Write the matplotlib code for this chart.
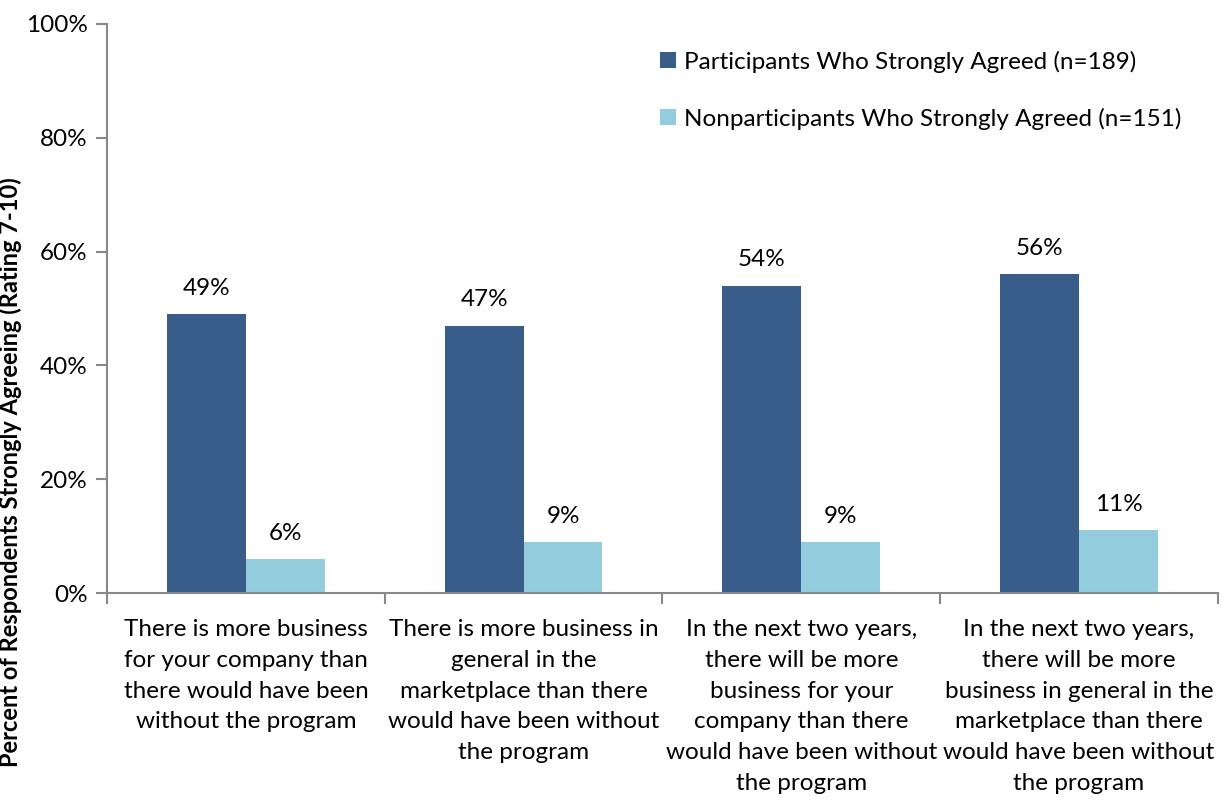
import numpy as np
import matplotlib.pyplot as plt

# survey results, percent strongly agreeing (rating 7-10)
categories = [
    "There is more business\nfor your company than\nthere would have been\nwithout the program",
    "There is more business in\ngeneral in the\nmarketplace than there\nwould have been without\nthe program",
    "In the next two years,\nthere will be more\nbusiness for your\ncompany than there\nwould have been without\nthe program",
    "In the next two years,\nthere will be more\nbusiness in general in the\nmarketplace than there\nwould have been without\nthe program",
]
participants = [49, 47, 54, 56]
nonparticipants = [6, 9, 9, 11]
series_names = ["Participants Who Strongly Agreed (n=189)",
                "Nonparticipants Who Strongly Agreed (n=151)"]
y_ticks = [0, 20, 40, 60, 80, 100]

plt.rcParams['font.family'] = ['Lato', 'DejaVu Sans']

dark = "#385D8A"
light = "#93CDDD"
axis_grey = "#888888"
fs = 17.5

fig = plt.figure(figsize=(12.22, 8), dpi=100)
ax = fig.add_axes([0.0876, 0.25875, 0.909, 0.71125])

x = np.arange(len(categories))
w = 0.284
b1 = ax.bar(x - w / 2, participants, w, color=dark, label=series_names[0])
b2 = ax.bar(x + w / 2, nonparticipants, w, color=light, label=series_names[1])

for bars, vals in [(b1, participants), (b2, nonparticipants)]:
    for r, v in zip(bars, vals):
        ax.annotate(f"{v}%", (r.get_x() + r.get_width() / 2, v),
                    xytext=(0, 11), textcoords="offset points",
                    ha="center", va="bottom", fontsize=fs)

ax.set_xlim(-0.5, len(categories) - 0.5)
ax.set_ylim(0, 100)
ax.set_yticks(y_ticks)
ax.set_yticklabels([f"{t}%" for t in y_ticks], fontsize=fs)
ax.tick_params(axis="y", length=8, width=1.5, color=axis_grey, pad=6)

# category labels sit between boundary ticks
ax.set_xticks(np.arange(len(categories) + 1) - 0.5)
ax.set_xticklabels([])
ax.tick_params(axis="x", length=8, width=1.5, color=axis_grey)
for xi, lab in zip(x, categories):
    ax.text(xi, -4.6, lab, ha="center", va="top", fontsize=fs,
            linespacing=1.57, transform=ax.transData, clip_on=False)

for side in ["top", "right"]:
    ax.spines[side].set_visible(False)
for side in ["left", "bottom"]:
    ax.spines[side].set_color(axis_grey)
    ax.spines[side].set_linewidth(1.5)

ax.set_ylabel("Percent of Respondents Strongly Agreeing (Rating 7-10)",
              fontsize=17, fontweight="bold")
ax.yaxis.set_label_coords(-0.0765, 0.213)

ax.legend(loc="upper left", bbox_to_anchor=(0.478, 0.992), frameon=False,
          fontsize=fs, handlelength=0.65, handleheight=0.65,
          handletextpad=0.35, labelspacing=1.45)

fig.savefig("out.png", dpi=100)
